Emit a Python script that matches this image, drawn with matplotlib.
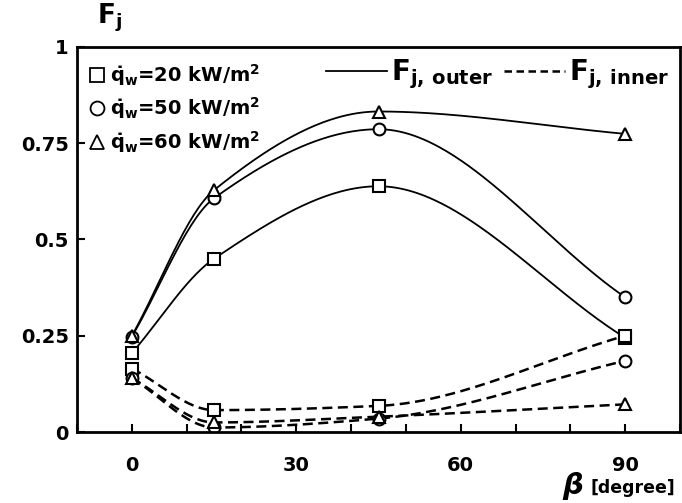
import numpy as np
import matplotlib
matplotlib.use('Agg')
import matplotlib.pyplot as plt
from matplotlib.lines import Line2D

plt.rcParams['font.family'] = ['DejaVu Sans']
plt.rcParams['font.weight'] = 'bold'
plt.rcParams['mathtext.fontset'] = 'custom'
plt.rcParams['mathtext.rm'] = 'DejaVu Sans:bold'
plt.rcParams['mathtext.it'] = 'DejaVu Sans:bold:italic'
plt.rcParams['mathtext.bf'] = 'DejaVu Sans:bold'

# inclination angle beta [degree]
beta = [0, 15, 45, 90]

# F_j outer (solid) and inner (dashed) for each wall heat flux
outer_20 = [0.205, 0.45, 0.638, 0.245]
outer_50 = [0.248, 0.607, 0.786, 0.35]
outer_60 = [0.25, 0.628, 0.832, 0.774]
inner_20 = [0.165, 0.057, 0.068, 0.25]
inner_50 = [0.14, 0.012, 0.035, 0.185]
inner_60 = [0.14, 0.025, 0.04, 0.072]

heat_flux = [20, 50, 60]
markers = ['s', 'o', '^']


def smooth(x, y, num=200):
    # monotone cubic through the measured points, drawing only
    x = np.asarray(x, float)
    y = np.asarray(y, float)
    h = np.diff(x)
    d = np.diff(y) / h
    n = len(x)
    m = np.zeros(n)
    for i in range(1, n - 1):
        if d[i - 1] * d[i] > 0:
            w1 = 2 * h[i] + h[i - 1]
            w2 = h[i] + 2 * h[i - 1]
            m[i] = (w1 + w2) / (w1 / d[i - 1] + w2 / d[i])
    m[0] = d[0]
    m[-1] = d[-1]
    xs = np.linspace(x[0], x[-1], num)
    ys = np.zeros_like(xs)
    for k, xv in enumerate(xs):
        i = min(np.searchsorted(x, xv, side='right') - 1, n - 2)
        t = (xv - x[i]) / h[i]
        h00 = 2 * t ** 3 - 3 * t ** 2 + 1
        h10 = t ** 3 - 2 * t ** 2 + t
        h01 = -2 * t ** 3 + 3 * t ** 2
        h11 = t ** 3 - t ** 2
        ys[k] = h00 * y[i] + h10 * h[i] * m[i] + h01 * y[i + 1] + h11 * h[i] * m[i + 1]
    return xs, ys


fig = plt.figure(figsize=(6.82, 5.03), dpi=100)
ax = fig.add_axes([0.113, 0.141, 0.884, 0.766])

outer = [outer_20, outer_50, outer_60]
inner = [inner_20, inner_50, inner_60]
for m, yo, yi in zip(markers, outer, inner):
    xs, ys = smooth(beta, yo)
    ax.plot(xs, ys, color='black', lw=1.3)
    xs, ys = smooth(beta, yi)
    ax.plot(xs, ys, color='black', lw=1.8, dashes=(4, 2.2))
    ax.plot(beta, yo, ls='none', marker=m, ms=8.5, mfc='white', mec='black', mew=1.5)
    ax.plot(beta, yi, ls='none', marker=m, ms=8.5, mfc='white', mec='black', mew=1.5)

ax.set_xlim(-10, 100)
ax.set_ylim(0, 1)
ax.set_xticks(range(-10, 101, 10), minor=True)
ax.set_xticks([0, 30, 60, 90])
ax.set_yticks([0, 0.25, 0.5, 0.75, 1])
ax.set_yticklabels(['0', '0.25', '0.5', '0.75', '1'])
ax.tick_params(direction='in', which='both', labelsize=14, width=1.5, length=6)
ax.tick_params(axis='x', pad=17)
ax.tick_params(axis='y', pad=6)
for s in ax.spines.values():
    s.set_linewidth(2)

handles = [Line2D([], [], ls='none', marker=m, ms=10, mfc='white', mec='black', mew=1.3)
           for m in markers]
labels = [r'$\dot{\mathrm{q}}_\mathrm{w}$=%d kW/m$^\mathrm{2}$' % q for q in heat_flux]
leg1 = ax.legend(handles, labels, loc='upper left', frameon=False, fontsize=14,
                 handlelength=0.8, handletextpad=0.3, labelspacing=0.38,
                 borderaxespad=0.2, bbox_to_anchor=(0.0, 0.99))
ax.add_artist(leg1)

style_handles = [Line2D([], [], color='black', lw=1.3),
                 Line2D([], [], color='black', lw=1.8, dashes=(3, 1.8))]
style_labels = [r'F$_\mathrm{j,\,outer}$', r'F$_\mathrm{j,\,inner}$']
ax.legend(style_handles, style_labels, loc='upper right', ncol=2, frameon=False,
          fontsize=20, handlelength=2.2, handletextpad=0.15, columnspacing=0.4,
          borderaxespad=0.0, bbox_to_anchor=(1.0, 1.0))

fig.text(0.142, 0.996, r'F$_\mathrm{j}$', fontsize=19, ha='left', va='top')
fig.text(0.825, 0.005, 'β', fontsize=21, style='italic', ha='left', va='bottom')
fig.text(0.99, 0.012, '[degree]', fontsize=12.5, ha='right', va='bottom')

fig.savefig('out.png', dpi=100)
